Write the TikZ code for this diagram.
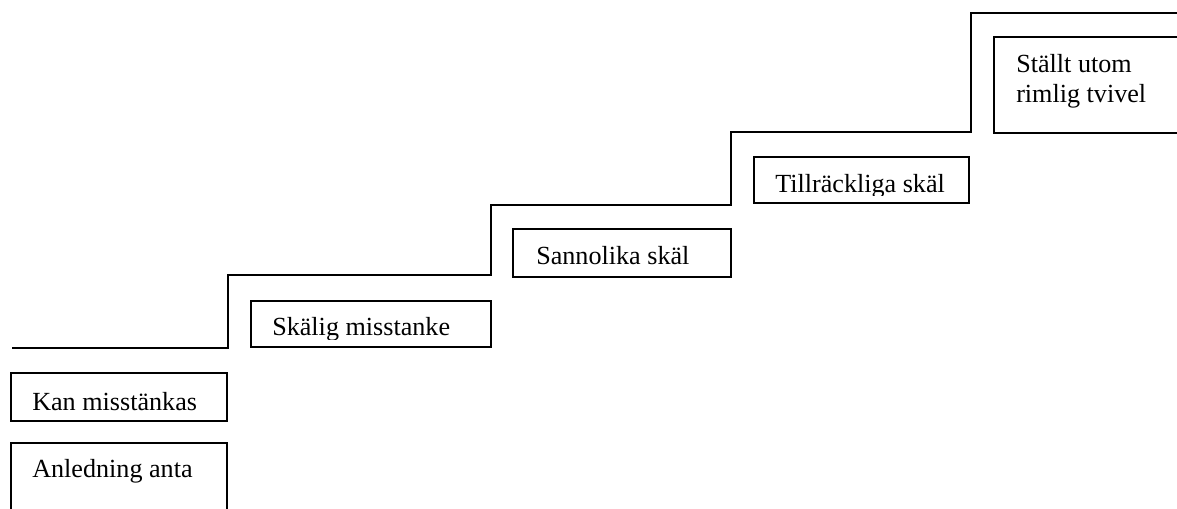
\documentclass[tikz,border=0pt]{standalone}
\usepackage{fontspec}
\setmainfont{Liberation Serif}
\usetikzlibrary{positioning}

\begin{document}
\begin{tikzpicture}[
  x=0.75pt, y=-0.75pt,
  stair/.style={draw, line width=1.3pt},
  box/.style={draw, line width=1.3pt},
  lbl/.style={anchor=base west, inner sep=0pt, align=left,
    font=\fontsize{19.6}{22.5}\selectfont}
]
\useasboundingbox (0,0) rectangle (1177,508);
\clip (0,0) rectangle (1177,508);
% the steps
\draw[stair] (12,348) -| (228,275) -| (491,205) -| (731,132) -| (971,13) -- (1177,13);
% bottom level
\draw[box] (11,373) rectangle (227,421);
\node[lbl] (kan) at (32,410) {Kan misstänkas};
\draw[box] (11,443) rectangle (227,530);
\node[lbl] (anledning) at (32,477) {Anledning anta};
% first step
\draw[box] (251,301) rectangle (491,347);
\begin{scope}
  \clip (251,301) rectangle (491,339);
  \node[lbl] (skalig) at (272,335) {Skälig misstanke};
\end{scope}
% second step
\draw[box] (513,229) rectangle (731,277);
\node[lbl] (sannolika) at (536,264) {Sannolika skäl};
% third step
\draw[box] (754,157) rectangle (969,203);
\begin{scope}
  \clip (754,157) rectangle (969,195);
  \node[lbl] (tillrackliga) at (775,192) {Tillräckliga skäl};
\end{scope}
% top step
\draw[box] (994,37) rectangle (1200,133);
\node[lbl] (stallt) at (1016,102) {Ställt utom\\rimlig tvivel};
\end{tikzpicture}
\end{document}
